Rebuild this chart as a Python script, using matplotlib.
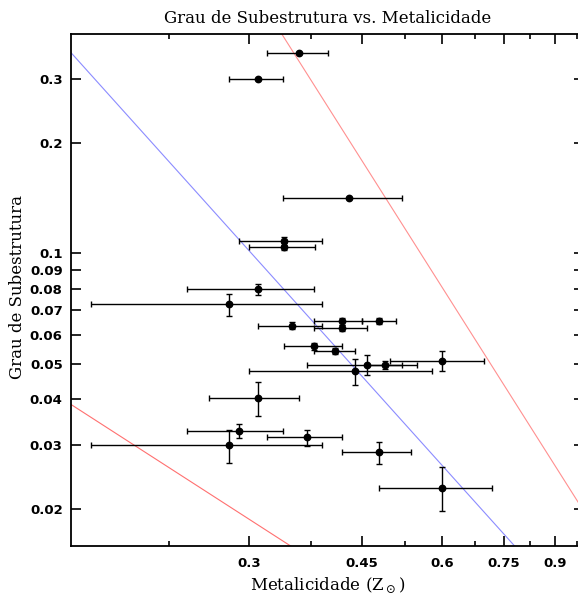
import numpy as np
import matplotlib
matplotlib.use("Agg")
import matplotlib.pyplot as plt
from matplotlib.ticker import FixedLocator, FixedFormatter, NullFormatter, NullLocator

# ---- data ----
metalicidade = [0.359, 0.310, 0.430, 0.340, 0.340, 0.310, 0.280, 0.350, 0.419, 0.419, 0.4795, 0.379,
                0.409, 0.439, 0.4595, 0.490, 0.600, 0.310, 0.290, 0.280, 0.3695, 0.4795, 0.600]
metal_inf = [0.320, 0.280, 0.339, 0.290, 0.300, 0.2405, 0.170, 0.310, 0.379, 0.379, 0.450, 0.340,
             0.379, 0.300, 0.3695, 0.4595, 0.498, 0.260, 0.2405, 0.170, 0.320, 0.420, 0.4795]
metal_sup = [0.399, 0.339, 0.520, 0.390, 0.380, 0.379, 0.390, 0.390, 0.450, 0.4595, 0.509, 0.419,
             0.439, 0.580, 0.549, 0.520, 0.698, 0.360, 0.339, 0.390, 0.419, 0.538, 0.7186]
subestrutura = [0.354, 0.300, 0.142, 0.108, 0.104, 0.0797, 0.0727, 0.0634, 0.0652, 0.0626, 0.0653, 0.0557,
                0.0542, 0.0476, 0.0496, 0.0495, 0.0508, 0.0402, 0.0327, 0.0299, 0.0314, 0.0286, 0.0228]
sub_inf = [0.354, 0.300, 0.142, 0.1056, 0.102, 0.0769, 0.0674, 0.0621, 0.0638, 0.0614, 0.0640, 0.0546,
           0.0531, 0.0436, 0.0465, 0.0482, 0.0476, 0.0359, 0.0313, 0.0268, 0.0298, 0.0266, 0.0197]
sub_sup = [0.354, 0.300, 0.142, 0.111, 0.1065, 0.0823, 0.0777, 0.0649, 0.0667, 0.0636, 0.0667, 0.0570,
           0.0551, 0.0515, 0.0526, 0.0508, 0.0541, 0.0444, 0.0341, 0.0330, 0.0330, 0.0306, 0.0260]

# power-law reference lines y = A * x**k
linha_amp = [0.00975, 0.0197, 0.00482]
linha_exp = [-1.95, -2.77, -1.13]
linha_cor = ["#8c8cff", "#ff9090", "#ff7070"]

x_ticks = [0.3, 0.45, 0.6, 0.75, 0.9]
x_ticklabels = ["0.3", "0.45", "0.6", "0.75", "0.9"]
x_minor = [0.225, 0.375, 0.525, 0.675, 0.825, 0.975]
y_ticks = [0.02, 0.03, 0.04, 0.05, 0.06, 0.07, 0.08, 0.09, 0.1, 0.2, 0.3]
y_ticklabels = ["0.02", "0.03", "0.04", "0.05", "0.06", "0.07", "0.08", "0.09", "0.1", "0.2", "0.3"]

# ---- figure ----
W, H = 578, 595
fig = plt.figure(figsize=(W / 100, H / 100), dpi=100)
ax = fig.add_axes([71 / W, 1 - 546 / H, (584 - 71) / W, (546 - 34) / H])
ax.set_xscale("log")
ax.set_yscale("log")
xlim = (10 ** -0.8, 1.0)
ax.set_xlim(*xlim)
ax.set_ylim(10 ** -1.8, 10 ** -0.4)

xs = np.logspace(np.log10(xlim[0]), np.log10(xlim[1]), 200)
for a, k, c in zip(linha_amp, linha_exp, linha_cor):
    ax.plot(xs, a * xs ** k, color=c, lw=0.8, zorder=1)

x = np.array(metalicidade)
y = np.array(subestrutura)
xerr = [x - np.array(metal_inf), np.array(metal_sup) - x]
yerr = [y - np.array(sub_inf), np.array(sub_sup) - y]
ax.errorbar(x, y, xerr=xerr, yerr=yerr, fmt="o", color="black", ms=4.6,
            elinewidth=1.0, capsize=2.2, capthick=1.0, zorder=3)

ax.xaxis.set_major_locator(FixedLocator(x_ticks))
ax.xaxis.set_major_formatter(FixedFormatter(x_ticklabels))
ax.xaxis.set_minor_locator(FixedLocator(x_minor))
ax.xaxis.set_minor_formatter(NullFormatter())
ax.yaxis.set_major_locator(FixedLocator(y_ticks))
ax.yaxis.set_major_formatter(FixedFormatter(y_ticklabels))
ax.yaxis.set_minor_locator(NullLocator())

ax.tick_params(which="both", direction="in", top=True, right=True, width=1.2)
ax.tick_params(which="major", length=7.5)
ax.tick_params(which="minor", length=3.7)
ax.tick_params(axis="y", pad=6)
ax.tick_params(axis="x", pad=8)
for lab in ax.get_xticklabels() + ax.get_yticklabels():
    lab.set_fontfamily("DejaVu Sans")
    lab.set_fontweight("bold")
    lab.set_fontsize(9.5)
for s in ax.spines.values():
    s.set_linewidth(1.3)

serif = "DejaVu Serif"
ax.set_title("Grau de Subestrutura vs. Metalicidade", family=serif, fontsize=12, pad=8)
ax.set_xlabel(r"Metalicidade (Z$_\odot$)", family=serif, fontsize=12)
ax.set_ylabel("Grau de Subestrutura", family=serif, fontsize=12)
ax.xaxis.set_label_coords(0.5, (546 - 576) / 512)
ax.yaxis.set_label_coords((18 - 71) / 513, 0.505)
ax.yaxis.label.set_va("center")

fig.savefig("out.png", dpi=100)
